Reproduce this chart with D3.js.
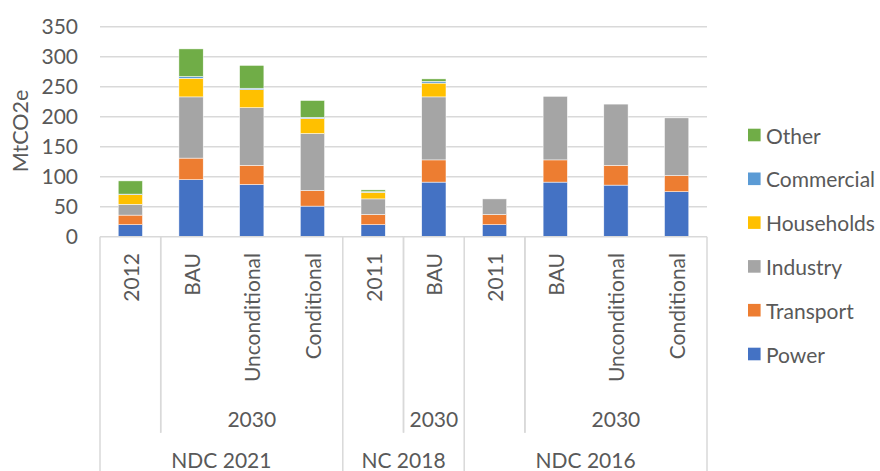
<!DOCTYPE html>
<html>
<head>
<meta charset="utf-8">
<script src="https://cdn.jsdelivr.net/npm/d3@7"></script>
<style>
  html, body { margin: 0; padding: 0; background: #fff; }
  text { font-family: Lato, "Open Sans", sans-serif; fill: #595959; }
</style>
</head>
<body>
<svg id="chart" width="880" height="471"></svg>
<script>
// ---- Data ----
const scenarios = ["2012", "BAU", "Unconditional", "Conditional", "2011", "BAU", "2011", "BAU", "Unconditional", "Conditional"];
const horizons  = ["", "2030", "2030", "2030", "", "2030", "", "2030", "2030", "2030"];
const documents = ["NDC 2021", "NDC 2021", "NDC 2021", "NDC 2021", "NC 2018", "NC 2018", "NDC 2016", "NDC 2016", "NDC 2016", "NDC 2016"];

const seriesNames = ["Power", "Transport", "Industry", "Households", "Commercial", "Other"];
const power      = [20, 95, 87, 51, 20, 91, 20, 91, 86, 75];
const transport  = [16, 36, 32, 26, 17, 37, 17, 37, 33, 27];
const industry   = [18, 102, 96, 95, 26, 105, 26, 106, 102, 96];
const households = [16, 31, 30, 25, 11, 23, 0, 0, 0, 0];
const commercial = [1, 3, 2.5, 2, 1, 3, 0, 0, 0, 0];
const other      = [22, 46, 38, 28, 3, 4, 0, 0, 0, 0];
const yTicks = [0, 50, 100, 150, 200, 250, 300, 350];
const colors = ["#4472C4", "#ED7D31", "#A5A5A5", "#FFC000", "#5B9BD5", "#70AD47"];

const seriesValues = [power, transport, industry, households, commercial, other];
const rows = scenarios.map((s, i) => {
  const r = { idx: i };
  seriesNames.forEach((n, k) => r[n] = seriesValues[k][i]);
  return r;
});

// ---- Layout ----
const svg = d3.select("#chart");
const plotLeft = 100, plotRight = 707, plotTop = 26.7, plotBottom = 236.7;
const fs = 21;

const x = d3.scaleBand().domain(d3.range(scenarios.length)).range([plotLeft, plotRight])
  .paddingInner(0.6).paddingOuter(0.3);
const y = d3.scaleLinear().domain([0, 350]).range([plotBottom, plotTop]);
const step = x.step();

// gridlines
svg.append("g").selectAll("line").data(yTicks.filter(t => t > 0)).join("line")
  .attr("x1", plotLeft).attr("x2", plotRight)
  .attr("y1", d => y(d)).attr("y2", d => y(d))
  .attr("stroke", "#d9d9d9").attr("stroke-width", 1.5);

// y tick labels
svg.append("g").selectAll("text").data(yTicks).join("text")
  .attr("x", 78).attr("y", d => y(d)).attr("dy", "0.36em")
  .attr("text-anchor", "end").attr("font-size", fs)
  .text(d => d);

// y title
svg.append("text")
  .attr("transform", "translate(20,131) rotate(-90)")
  .attr("text-anchor", "middle").attr("dominant-baseline", "central")
  .attr("font-size", 21.5).text("MtCO2e");

// bars
const stack = d3.stack().keys(seriesNames)(rows);
svg.append("g").selectAll("g").data(stack).join("g")
  .attr("fill", (d, i) => colors[i])
  .selectAll("rect").data(d => d).join("rect")
  .attr("x", d => x(d.data.idx))
  .attr("width", x.bandwidth())
  .attr("y", d => y(d[1]))
  .attr("height", d => Math.max(0, y(d[0]) - y(d[1])))
  .attr("stroke", "#ffffff").attr("stroke-width", 0.5);

// category axis
const axisG = svg.append("g");
const lineColor = "#d9d9d9";
axisG.append("line").attr("x1", plotLeft).attr("x2", plotRight).attr("y1", plotBottom).attr("y2", plotBottom)
  .attr("stroke", lineColor).attr("stroke-width", 1.5);

// level-1 labels (rotated)
axisG.selectAll("text.l1").data(scenarios).join("text").attr("class", "l1")
  .attr("transform", (d, i) => `translate(${x(i) + x.bandwidth() / 2},253) rotate(-90)`)
  .attr("text-anchor", "end").attr("dominant-baseline", "central")
  .attr("font-size", fs).text(d => d);

// helper to find runs
function runs(arr) {
  const out = [];
  arr.forEach((v, i) => {
    if (out.length && out[out.length - 1].key === v && v !== "") out[out.length - 1].end = i;
    else out.push({ key: v, start: i, end: i });
  });
  return out;
}
const docRuns = runs(documents);
const horRuns = runs(documents.map((d, i) => d + "|" + horizons[i]))
  .map(r => ({ ...r, label: horizons[r.start] }));

// boundaries
const edge = i => plotLeft + step * i;
const docBounds = new Set([0, scenarios.length]);
docRuns.forEach(r => { docBounds.add(r.start); docBounds.add(r.end + 1); });
docBounds.forEach(b => {
  axisG.append("line").attr("x1", edge(b)).attr("x2", edge(b))
    .attr("y1", plotBottom).attr("y2", 471)
    .attr("stroke", lineColor).attr("stroke-width", 1.5);
});
horRuns.forEach(r => {
  [r.start, r.end + 1].forEach(b => {
    if (!docBounds.has(b)) {
      axisG.append("line").attr("x1", edge(b)).attr("x2", edge(b))
        .attr("y1", plotBottom).attr("y2", 432.7)
        .attr("stroke", lineColor).attr("stroke-width", 1.5);
    }
  });
});

// level-2 labels
axisG.selectAll("text.l2").data(horRuns.filter(r => r.label !== "")).join("text").attr("class", "l2")
  .attr("x", r => (edge(r.start) + edge(r.end + 1)) / 2).attr("y", 418)
  .attr("text-anchor", "middle").attr("dominant-baseline", "central")
  .attr("font-size", fs).text(r => r.label);

// level-3 labels
axisG.selectAll("text.l3").data(docRuns).join("text").attr("class", "l3")
  .attr("x", r => (edge(r.start) + edge(r.end + 1)) / 2).attr("y", 459)
  .attr("text-anchor", "middle").attr("dominant-baseline", "central")
  .attr("font-size", fs).text(r => r.key);

// legend
const legendOrder = seriesNames.map((n, i) => ({ name: n, color: colors[i] })).reverse();
const lg = svg.append("g").selectAll("g").data(legendOrder).join("g")
  .attr("transform", (d, i) => `translate(748,${135 + i * 43.8})`);
lg.append("rect").attr("x", 0).attr("y", -6.3).attr("width", 12.6).attr("height", 12.6)
  .attr("fill", d => d.color);
lg.append("text").attr("x", 18).attr("y", 0).attr("dominant-baseline", "central")
  .attr("font-size", fs).text(d => d.name);
</script>
</body>
</html>
